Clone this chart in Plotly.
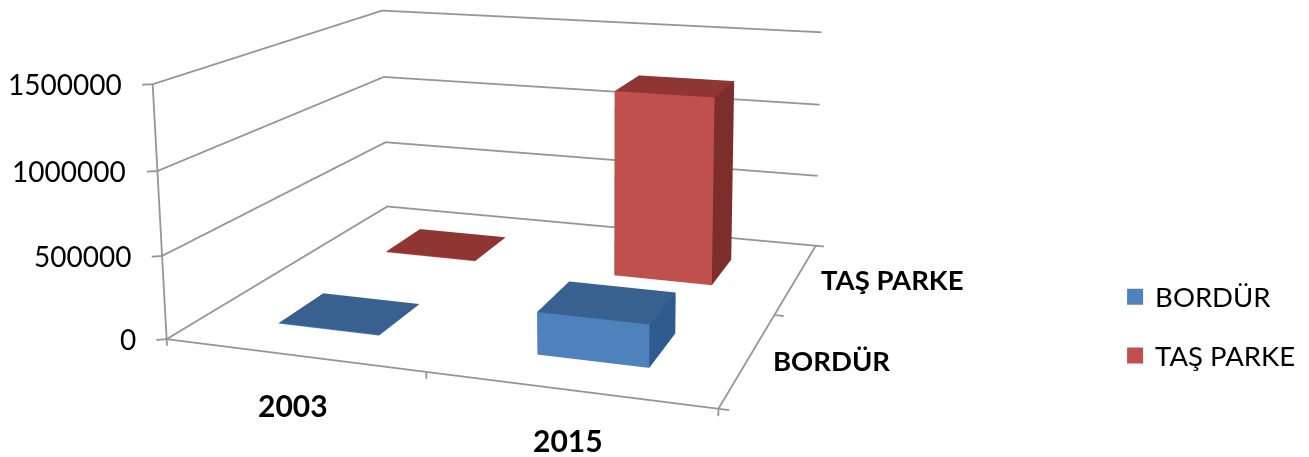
import numpy as np
import plotly.graph_objects as go

categories = ["2003", "2015"]
series = ["BORDÜR", "TAŞ PARKE"]
bordur = [5000, 250000]
tas_parke = [5000, 1225000]
z_ticks = [0, 500000, 1000000, 1500000]

W, H = 1309, 457
# camera found by fitting the chart's box corners (scene units, px)
eye = np.array([1.0055, -2.6499, 0.7382])
cen = np.array([0.0447, 0.3599, 0.1499])
ay, az = 0.898, 0.4597
f_px, cx, cy = 1519.2, 598.9, 65.2

Hf = int(round(f_px / (1 / np.tan(np.pi / 8)) * 2))
Wf = int(2 * max(cx, W - cx) + 4)
left = cx - Wf / 2
top = cy - Hf / 2

xr = [-0.06, 2.06]; yr = [-0.05, 2.06]; zr = [-60000, 1560000]
base = [(0, 2), (0, 2), (0, 1500000)]
asp = [1, ay, az]
scale = [asp[i] / (base[i][1] - base[i][0]) for i in range(3)]
exts = [xr, yr, zr]
asp_e = [scale[i] * (exts[i][1] - exts[i][0]) for i in range(3)]
shift = np.array([((base[i][0] + base[i][1]) - (exts[i][0] + exts[i][1])) / 2 * scale[i] for i in range(3)])
eye_e = eye + shift
cen_e = cen + shift

hx, hy = 0.20, 0.19
LINE = "#969696"
fig = go.Figure()

def bar(xc, yc, val, cf, cr, ct):
    x0, x1 = xc - hx, xc + hx
    y0, y1 = yc - hy, yc + hy
    fig.add_trace(go.Mesh3d(
        x=[x0, x1, x1, x0, x0, x1, x1, x0], y=[y0, y0, y1, y1, y0, y0, y1, y1], z=[0, 0, 0, 0, val, val, val, val],
        i=[0, 0, 1, 1, 4, 4], j=[1, 5, 2, 6, 5, 6], k=[5, 4, 6, 5, 6, 7],
        facecolor=[cf, cf, cr, cr, ct, ct], flatshading=True,
        lighting=dict(ambient=1, diffuse=0, specular=0, fresnel=0), hoverinfo="skip", showscale=False))

for ci, _ in enumerate(categories):
    bar(ci + .5, .48, bordur[ci], "#4F81BD", "#2F5C8F", "#38618F")
    bar(ci + .5, 1.48, tas_parke[ci], "#C0504D", "#7D2E2B", "#8F3532")

def line(xs, ys, zs):
    fig.add_trace(go.Scatter3d(x=xs, y=ys, z=zs, mode="lines", line=dict(color=LINE, width=3.6), hoverinfo="skip", showlegend=False))

for v in z_ticks:
    line([0, 0, 2], [0, 2, 2], [v, v, v])
    line([0, -.03], [0, -.02], [v, v])
line([0, 0], [0, 0], [0, z_ticks[-1]])
line([0, 2, 2], [0, 0, 2], [0, 0, 0])
for i in (0, 1, 2):
    line([i, i], [0, 0], [0, -40000])
    line([2, 2.035], [i, i], [0, 0])

ann = []
for v in z_ticks:
    ann.append(dict(x=0, y=0, z=v, text=str(v), showarrow=False, xanchor="right", xshift=-29, font=dict(size=28, color="#000")))
for i, cn in enumerate(categories):
    ann.append(dict(x=i + .5, y=0, z=0, text=f"<b>{cn}</b>", showarrow=False, yshift=-50, xshift=0, font=dict(size=30, color="#000")))
for i, sn in enumerate(series):
    ann.append(dict(x=2, y=i + .5, z=0, text=f"<b>{sn}</b>", showarrow=False, xanchor="left", xshift=22, yshift=-2, font=dict(size=27.5, color="#000")))

fig.add_trace(go.Scatter(x=[None], y=[None], mode="markers", name=series[0], legendgroup="a", marker=dict(symbol="square", size=17, color="#4F81BD")))
fig.add_trace(go.Scatter(x=[None], y=[None], mode="markers", name=series[1], legendgroup="b", marker=dict(symbol="square", size=17, color="#C0504D")))
hid = dict(visible=False)
fig.update_layout(template="none", width=Wf, height=Hf, margin=dict(l=0, r=0, t=0, b=0), paper_bgcolor="rgba(0,0,0,0)", plot_bgcolor="rgba(0,0,0,0)", font=dict(family="Lato"),
    xaxis=hid, yaxis=hid,
    legend=dict(x=(1115 - left) / Wf, y=1 - (326 - top) / Hf, xanchor="left", yanchor="middle", tracegroupgap=20, font=dict(size=27.5, color="#000"), bgcolor="rgba(0,0,0,0)"),
    scene=dict(domain=dict(x=[0, 1], y=[0, 1]), aspectmode="manual", aspectratio=dict(x=float(asp_e[0]), y=float(asp_e[1]), z=float(asp_e[2])),
        camera=dict(eye=dict(x=float(eye_e[0]), y=float(eye_e[1]), z=float(eye_e[2])), center=dict(x=float(cen_e[0]), y=float(cen_e[1]), z=float(cen_e[2])), up=dict(x=0, y=0, z=1), projection=dict(type="perspective")),
        xaxis=dict(hid, range=xr), yaxis=dict(hid, range=yr), zaxis=dict(hid, range=zr),
        annotations=ann))
post = f"""var gd=document.getElementById('{{plot_id}}');gd.style.position='absolute';gd.style.left='{left:.1f}px';gd.style.top='{top:.1f}px';
document.documentElement.style.overflow='hidden';document.body.style.overflow='hidden';document.body.style.margin='0';"""
fig.write_html("out.html", post_script=post, default_width=f"{Wf}px", default_height=f"{Hf}px")
